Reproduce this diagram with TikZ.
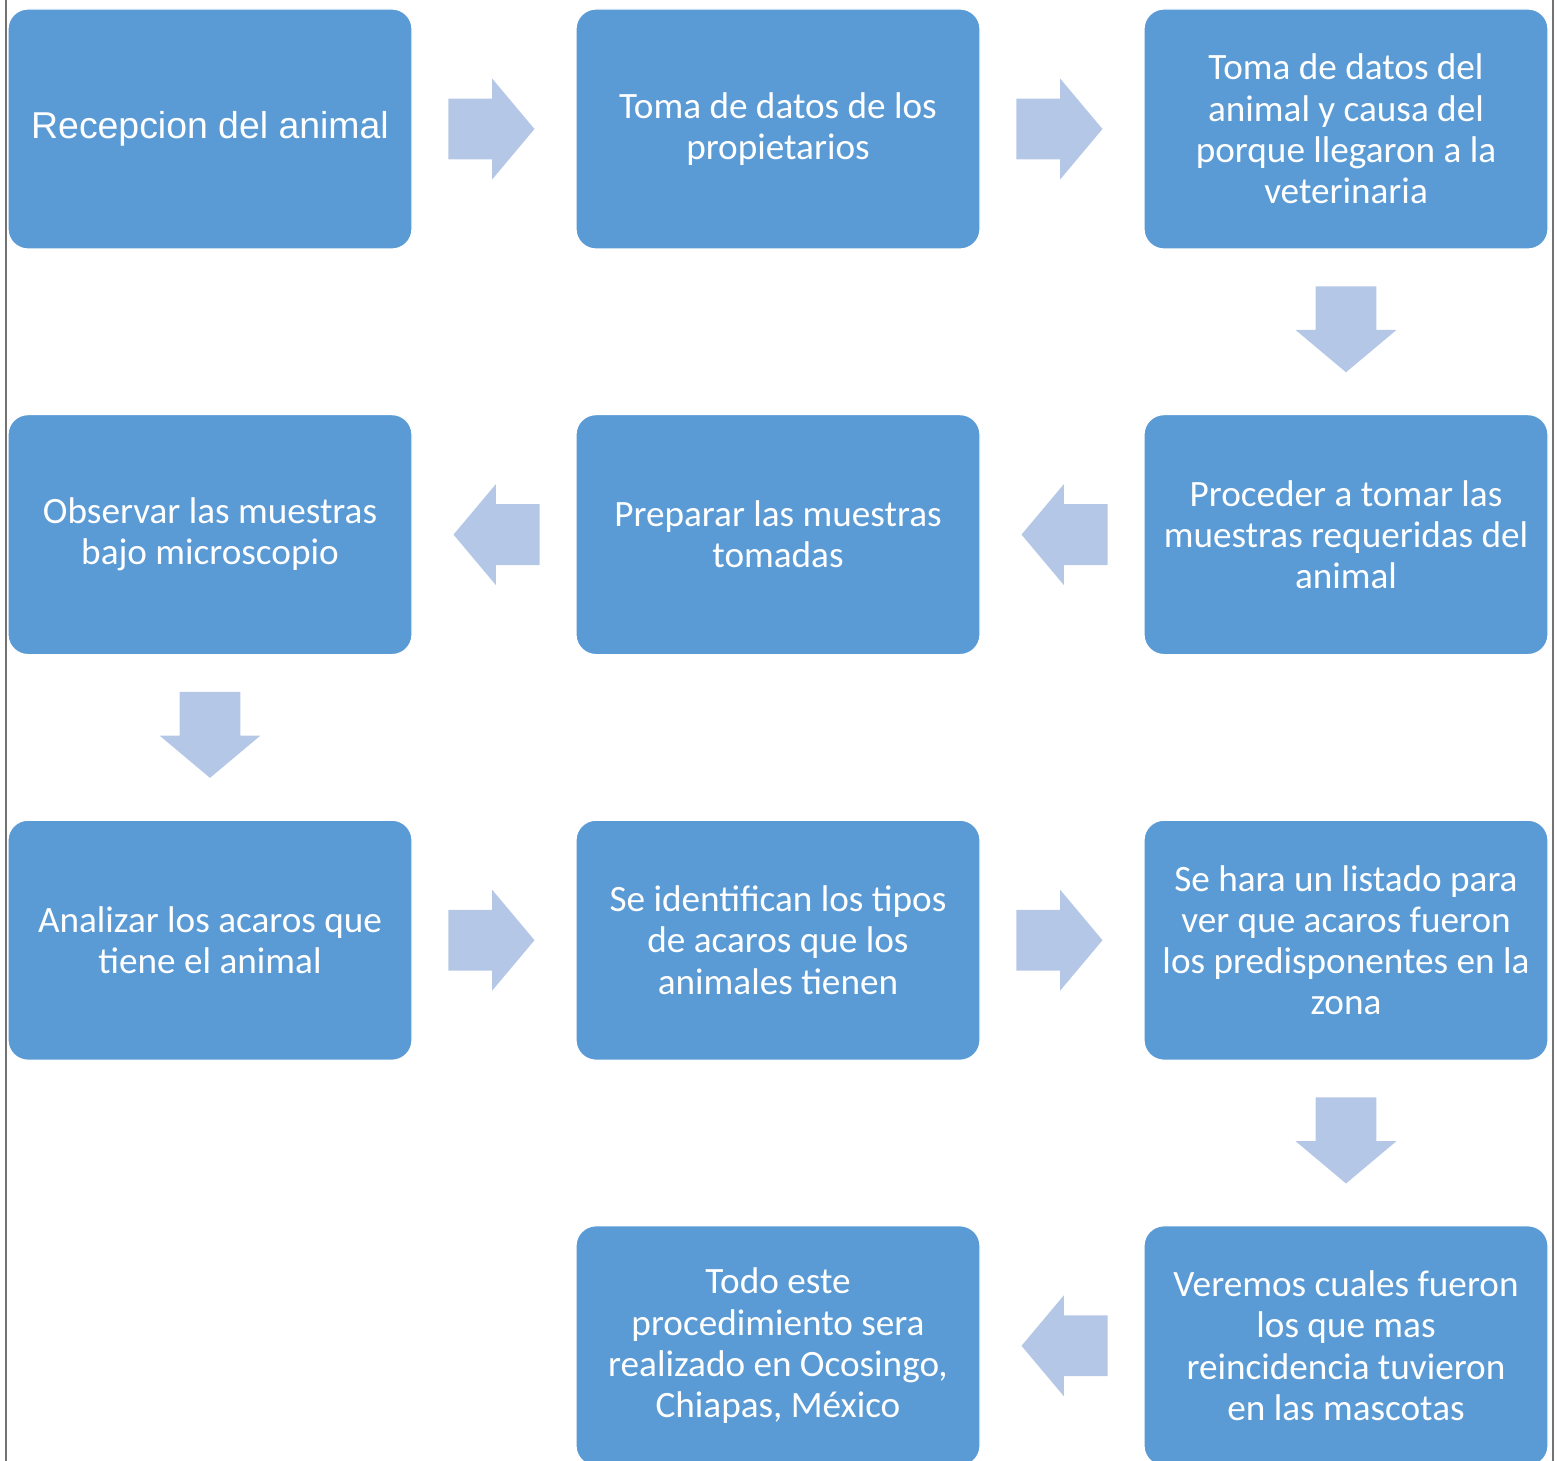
\documentclass[tikz,border=0pt]{standalone}
\usepackage{fontspec}
\setmainfont{Carlito}
\newfontfamily\arialfont{Liberation Sans}
\usetikzlibrary{shapes,arrows}
\usetikzlibrary{calc}
\usetikzlibrary{positioning}
\definecolor{boxblue}{HTML}{5B9BD5}
\definecolor{arrowblue}{HTML}{B4C7E7}
\tikzstyle{block} = [draw=white, line width=0.6pt, fill=boxblue, rectangle, rounded corners=10pt,
    minimum height=120pt, minimum width=202pt, text=white, align=center,
    font=\fontsize{18.6pt}{20.6pt}\selectfont]
\tikzstyle{flecha} = [single arrow, fill=arrowblue, inner xsep=0pt, inner ysep=15pt,
    minimum height=43pt, minimum width=50pt, single arrow head extend=10pt,
    single arrow tip angle=100, anchor=tip]
\tikzstyle{marco} = [draw=gray!90!black, line width=1pt]

\begin{document}
\begin{tikzpicture}[auto, node distance=284pt, x=0.5pt, y=-0.5pt]
    \useasboundingbox (0,0) rectangle (1560,1461);
    % side lines of the page
    \draw [marco] (6,0) -- (6,1461);
    \draw [marco] (1553,0) -- (1553,1461);

    % We start by placing the blocks
    \node [block, font=\arialfont\fontsize{18.7pt}{22pt}\selectfont] (recepcion) at (210,129) {Recepcion del animal};
    \node [block, right of=recepcion] (propietarios) {Toma de datos de los\\propietarios};
    \node [block, right of=propietarios] (datos) {Toma de datos del\\animal y causa del\\porque llegaron a la\\veterinaria};
    \node [block, below of=datos, node distance=202.8pt] (muestras) {Proceder a tomar las\\muestras requeridas del\\animal};
    \node [block, left of=muestras] (preparar) {Preparar las muestras\\tomadas};
    \node [block, left of=preparar] (observar) {Observar las muestras\\bajo microscopio};
    \node [block, below of=observar, node distance=202.8pt] (analizar) {Analizar los acaros que\\tiene el animal};
    \node [block, right of=analizar] (identificar) {Se identifican los tipos\\de acaros que los\\animales tienen};
    \node [block, right of=identificar] (listado) {Se hara un listado para\\ver que acaros fueron\\los predisponentes en la\\zona};
    \node [block, below of=listado, node distance=202.8pt] (veremos) {Veremos cuales fueron\\los que mas\\reincidencia tuvieron\\en las mascotas};
    \node [block, left of=veremos] (ocosingo) {Todo este\\procedimiento sera\\realizado en Ocosingo,\\Chiapas, México};

    % Once the nodes are placed, the arrows go between them (tip past the middle)
    \node [flecha] (f1) at ($(recepcion)!0.5!(propietarios)!20.5pt!(propietarios)$) {};
    \node [flecha] (f2) at ($(propietarios)!0.5!(datos)!20.5pt!(datos)$) {};
    \node [flecha, rotate=-90] (f3) at ($(datos)!0.5!(muestras)!20.5pt!(muestras)$) {};
    \node [flecha, rotate=180] (f4) at ($(muestras)!0.5!(preparar)!20.5pt!(preparar)$) {};
    \node [flecha, rotate=180] (f5) at ($(preparar)!0.5!(observar)!20.5pt!(observar)$) {};
    \node [flecha, rotate=-90] (f6) at ($(observar)!0.5!(analizar)!20.5pt!(analizar)$) {};
    \node [flecha] (f7) at ($(analizar)!0.5!(identificar)!20.5pt!(identificar)$) {};
    \node [flecha] (f8) at ($(identificar)!0.5!(listado)!20.5pt!(listado)$) {};
    \node [flecha, rotate=-90] (f9) at ($(listado)!0.5!(veremos)!20.5pt!(veremos)$) {};
    \node [flecha, rotate=180] (f10) at ($(veremos)!0.5!(ocosingo)!20.5pt!(ocosingo)$) {};
\end{tikzpicture}
\end{document}
